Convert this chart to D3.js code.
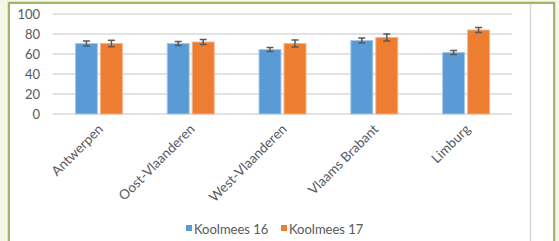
<!DOCTYPE html>
<html>
<head>
<meta charset="utf-8">
<script src="https://cdn.jsdelivr.net/npm/d3@7"></script>
<style>
  body { margin: 0; background: #f5f8e6; }
  svg { display: block; }
</style>
</head>
<body>
<div id="chart"></div>
<script>
// data
var categories = ["Antwerpen", "Oost-Vlaanderen", "West-Vlaanderen", "Vlaams Brabant", "Limburg"];
var seriesNames = ["Koolmees 16", "Koolmees 17"];
var koolmees16 = [70.5, 70.5, 64.5, 73.5, 61.5];
var koolmees17 = [70.5, 72, 70.5, 76.5, 84];
var err16 = [2.5, 2, 2, 2.5, 2];
var err17 = [3.2, 2.5, 3.5, 3.5, 2.5];
var yTicks = [0, 20, 40, 60, 80, 100];
var colors = ["#5b9bd5", "#ed7d31"];

var w = 559, h = 241;
var font = "Lato, 'Open Sans', sans-serif";
var textColor = "#595959";

var svg = d3.select("#chart").append("svg")
  .attr("width", w)
  .attr("height", h);

// page background + framed box
svg.append("rect").attr("width", w).attr("height", h).attr("fill", "#f5f8e6");
svg.append("rect")
  .attr("x", 9).attr("y", 3).attr("width", 545).attr("height", 250)
  .attr("fill", "#ffffff")
  .attr("stroke", "#dfe8bf").attr("stroke-width", 4);
svg.append("rect")
  .attr("x", 9).attr("y", 3).attr("width", 545).attr("height", 250)
  .attr("fill", "#ffffff")
  .attr("stroke", "#8d9d4c").attr("stroke-width", 1.5);
svg.append("line")
  .attr("x1", 530.5).attr("x2", 530.5).attr("y1", 3.5).attr("y2", h)
  .attr("stroke", "#d6d6d6").attr("stroke-width", 1.5);

var x = d3.scaleBand().domain(categories).range([53, 512]).padding(0);
var xSub = d3.scaleBand().domain(seriesNames).range([0, 47]).paddingInner(0.12);
var y = d3.scaleLinear().domain([0, 100]).range([114, 14]);

// gridlines
svg.selectAll(".grid")
  .data(yTicks)
  .enter()
  .append("line")
  .attr("x1", 53).attr("x2", 512)
  .attr("y1", function(d) { return y(d); })
  .attr("y2", function(d) { return y(d); })
  .attr("stroke", "#d9d9d9")
  .attr("stroke-width", 1.5);

// y labels
svg.selectAll(".ylab")
  .data(yTicks)
  .enter()
  .append("text")
  .attr("x", 40)
  .attr("y", function(d) { return y(d); })
  .attr("dy", "0.35em")
  .attr("text-anchor", "end")
  .attr("font-family", font)
  .attr("font-size", "13px")
  .attr("fill", textColor)
  .text(function(d) { return d; });

var rows = [];
for (var i = 0; i < categories.length; i++) {
  rows.push({cat: categories[i], s: seriesNames[0], v: koolmees16[i], e: err16[i], c: colors[0]});
  rows.push({cat: categories[i], s: seriesNames[1], v: koolmees17[i], e: err17[i], c: colors[1]});
}

function barX(d) {
  return x(d.cat) + (x.bandwidth() - 47) / 2 + xSub(d.s);
}

svg.selectAll(".bar")
  .data(rows)
  .enter()
  .append("rect")
  .attr("x", barX)
  .attr("y", function(d) { return y(d.v); })
  .attr("width", xSub.bandwidth())
  .attr("height", function(d) { return y(0) - y(d.v); })
  .attr("fill", function(d) { return d.c; })
  .attr("stroke", function(d) { return d.c == colors[0] ? "#a9c9ea" : "#f5b48c"; })
  .attr("stroke-width", 1);

// error bars
var eb = svg.selectAll(".err")
  .data(rows)
  .enter()
  .append("g")
  .attr("stroke", "#595959")
  .attr("stroke-width", 1.5);
eb.append("line")
  .attr("x1", function(d) { return barX(d) + xSub.bandwidth() / 2; })
  .attr("x2", function(d) { return barX(d) + xSub.bandwidth() / 2; })
  .attr("y1", function(d) { return y(d.v + d.e); })
  .attr("y2", function(d) { return y(d.v - d.e); });
eb.append("line")
  .attr("x1", function(d) { return barX(d) + xSub.bandwidth() / 2 - 3.5; })
  .attr("x2", function(d) { return barX(d) + xSub.bandwidth() / 2 + 3.5; })
  .attr("y1", function(d) { return y(d.v + d.e); })
  .attr("y2", function(d) { return y(d.v + d.e); });
eb.append("line")
  .attr("x1", function(d) { return barX(d) + xSub.bandwidth() / 2 - 3.5; })
  .attr("x2", function(d) { return barX(d) + xSub.bandwidth() / 2 + 3.5; })
  .attr("y1", function(d) { return y(d.v - d.e); })
  .attr("y2", function(d) { return y(d.v - d.e); });

// category labels
svg.selectAll(".xlab")
  .data(categories)
  .enter()
  .append("text")
  .attr("transform", function(d) {
    return "translate(" + (x(d) + x.bandwidth() / 2 + 5) + ",130) rotate(-45)";
  })
  .attr("text-anchor", "end")
  .attr("font-family", font)
  .attr("font-size", "13.5px")
  .attr("fill", textColor)
  .text(function(d) { return d; });

// legend
var legendX = [186, 281];
var lg = svg.selectAll(".leg")
  .data(seriesNames)
  .enter()
  .append("g")
  .attr("transform", function(d, i) { return "translate(" + legendX[i] + ",225)"; });
lg.append("rect")
  .attr("width", 6).attr("height", 6)
  .attr("fill", function(d, i) { return colors[i]; });
lg.append("text")
  .attr("x", 8).attr("y", 9)
  .attr("font-family", font)
  .attr("font-size", "13px")
  .attr("fill", textColor)
  .text(function(d) { return d; });
</script>
</body>
</html>
